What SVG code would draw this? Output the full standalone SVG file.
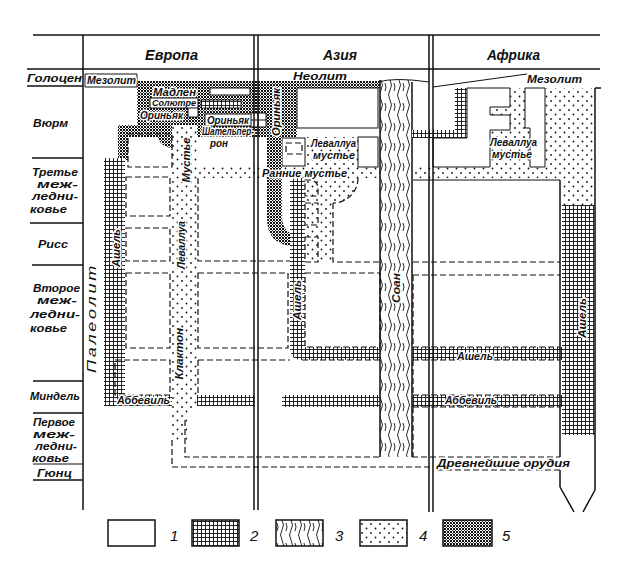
<svg xmlns="http://www.w3.org/2000/svg" width="630" height="586" viewBox="0 0 630 586">
<defs>
<pattern id="p2" width="4" height="4" patternUnits="userSpaceOnUse"><rect width="4" height="4" fill="#fff"/><path d="M0,1.5H4M1.5,0V4" stroke="#111" stroke-width="0.9"/></pattern>
<pattern id="p3" width="9" height="20" patternUnits="userSpaceOnUse"><rect width="9" height="20" fill="#fff"/><path d="M3,0q3,5 0,10q-3,5 0,10M7,3q2,4 0,8" fill="none" stroke="#111" stroke-width="0.9"/></pattern>
<pattern id="p4" width="9" height="9" patternUnits="userSpaceOnUse"><rect width="9" height="9" fill="#fff"/><circle cx="2" cy="2" r="0.9" fill="#111"/><circle cx="6.5" cy="6.5" r="0.9" fill="#111"/></pattern>
<pattern id="p5" width="3" height="3" patternUnits="userSpaceOnUse"><rect width="3" height="3" fill="#fff"/><rect width="2" height="2" fill="#111"/><rect x="2" y="2" width="1" height="1" fill="#222"/></pattern>
</defs>
<style>
.ln{stroke:#111;stroke-width:1.5;fill:none}
.thin{stroke:#111;stroke-width:1;fill:none}
.cell{stroke:#111;stroke-width:1.2;fill:none;stroke-dasharray:6 3}
.w{fill:#fff;stroke:#111;stroke-width:1}
.t{font-family:"Liberation Sans",Arial,sans-serif;font-style:italic;font-weight:bold;font-size:11px;fill:#111}
.h{paint-order:stroke;stroke:#fff;stroke-width:3px;stroke-linejoin:round}
.big{font-size:14px}
.sm{font-size:9px}
.s10{font-size:10px}
.num{font-size:15px;font-weight:normal}
.pal{font-size:13px;font-weight:normal;letter-spacing:2px}
</style>
<rect width="630" height="586" fill="#fff"/>

<g id="patterns">
<rect x="137" y="81" width="243" height="7" fill="url(#p5)"/>
<path d="M137,87 H297 V137 H118 V125 H137 Z" fill="url(#p5)"/>
<rect x="118" y="125" width="10" height="35" fill="url(#p5)"/>
<path d="M172,133 H157 A15,15 0 0 0 172,148 Z" fill="url(#p5)"/>
<rect x="210" y="88" width="40" height="7" class="w"/>
<rect x="201" y="100" width="40" height="8" fill="url(#p2)" stroke="#111" stroke-width="0.8"/>
<rect x="188" y="107" width="10" height="10" class="w"/>
<rect x="205" y="114" width="47" height="12" class="w"/>
<path d="M251,113 H266 V127 H251 Z M251,120 H266 M258,113 V127" class="w"/>
<rect x="104" y="158" width="21" height="248" fill="url(#p2)"/>
<rect x="104" y="395" width="68" height="11" fill="url(#p2)"/>
<path d="M172,125 H197 V405 L187,420 V440 H172 Z" fill="url(#p4)"/>
<rect x="197" y="167" width="183" height="11" fill="url(#p4)"/>
<rect x="297" y="88" width="81" height="40" class="w"/>
<rect x="305" y="137" width="53" height="30" fill="url(#p4)"/>
<rect x="358" y="137" width="20" height="30" class="w"/>
<rect x="282" y="138" width="23" height="28" class="w"/>
<rect x="286" y="143" width="16" height="11" class="cell" stroke-dasharray="3 2"/>
<path d="M267,137 H282 V215 Q282,230 292,234 V246 Q267,244 267,218 Z" fill="url(#p5)"/>
<path d="M290,178 H305 V347 H380 V360 H302 Q290,360 290,348 Z" fill="url(#p2)"/>
<rect x="305" y="178" width="28" height="84" fill="url(#p4)"/>
<path d="M333,178 H358 A25,25 0 0 1 333,203 Z" fill="url(#p4)"/>
<path d="M358,178 A25,25 0 0 1 333,203" class="cell"/>
<path d="M305,180 H310 A8,8 0 0 1 318,188 V196 H305 Z" fill="#fff" class="cell"/>
<rect x="305" y="203" width="13" height="22" fill="#fff" class="cell"/>
<rect x="305" y="237" width="13" height="25" fill="#fff" class="cell"/>
<rect x="197" y="395" width="58" height="11" fill="url(#p2)"/>
<rect x="282" y="395" width="98" height="12" fill="url(#p2)"/>
<rect x="412" y="395" width="150" height="12" fill="url(#p2)"/>
<rect x="412" y="347" width="150" height="13" fill="url(#p2)"/>
<rect x="380" y="80" width="32" height="377" fill="url(#p3)"/>
<path d="M380,80 V457 M412,82 V457" class="ln"/>
<path d="M378,82 Q395,77 429,82" class="thin"/>
<rect x="487" y="88" width="108" height="90" fill="url(#p4)"/>
<rect x="413" y="167" width="182" height="11" fill="url(#p4)"/>
<rect x="562" y="178" width="33" height="30" fill="url(#p4)"/>
<path d="M412,130 H455 V88 H467 V138 H412 Z" fill="url(#p2)"/>
<path d="M467,88 H510 V107 H490 V115 H510 V130 H490 V167 H433 V138 H467 Z" class="w"/>
<path d="M525,88 H545 V167 H530 V128 H525 Z" class="w"/>
<rect x="562" y="205" width="33" height="230" fill="url(#p2)"/>
</g>

<g id="cells">
<rect x="128" y="134" width="44" height="33" class="cell"/>
<rect x="126" y="177" width="44" height="39" class="cell"/>
<rect x="126" y="228" width="44" height="33" class="cell"/>
<rect x="126" y="273" width="44" height="75" class="cell"/>
<rect x="115" y="360" width="55" height="35" class="cell"/>
<path d="M198,178 V261 H290" class="cell"/>
<rect x="198" y="273" width="90" height="75" class="cell"/>
<path d="M198,360 V395 M198,360 H290" class="cell"/>
<rect x="305" y="273" width="75" height="74" class="cell"/>
<path d="M302,360 H380" class="cell"/>
<path d="M333,203 V262 H380" class="cell"/>
<path d="M185,420 V457 H380 M412,457 H560" class="cell"/>
<path d="M172,440 V467 H430" class="cell"/>
<path d="M437,470 H560" class="cell"/>
<path d="M413,262 H560 M413,275 H560 M413,347 H560 M413,360 H560 M413,395 H560 M413,407 H560" class="cell"/>
<path d="M413,180 H560" class="thin"/>
<path d="M413,275 V347 M413,360 V395 M413,407 V457" class="cell"/>
</g>

<g id="frame">
<path d="M33,35 H600 M27,69 H600 M27,86 H83 M32,158 H83 M30,223 H83 M32,265 H83 M33,381 H83 M33,413 H83 M33,480 H83" class="ln"/>
<path d="M33,464 H83" class="thin"/>
<path d="M83,35 V510 M254,35 V510 M258,35 V510 M429,35 V512 M433,35 V512" class="ln"/>
<path d="M595,88 V490 M595,88 H601 M560,180 V457 M560,470 V487 M560,487 L574,512 M595,490 L583,512" class="ln"/>
<path d="M433,87 L527,74" class="thin"/>
<path d="M85,74 H137 V87 H85 Z" class="thin"/>
</g>

<g id="labels">
<text class="t big" x="145" y="60" textLength="53" lengthAdjust="spacingAndGlyphs">Европа</text>
<text class="t big" x="323" y="60" textLength="34" lengthAdjust="spacingAndGlyphs">Азия</text>
<text class="t big" x="487" y="60" textLength="53" lengthAdjust="spacingAndGlyphs">Африка</text>

<text class="t" x="27" y="82" textLength="55" lengthAdjust="spacingAndGlyphs">Голоцен</text>
<text class="t" x="33" y="127" textLength="35" lengthAdjust="spacingAndGlyphs">Вюрм</text>
<text class="t" x="32" y="176" textLength="46" lengthAdjust="spacingAndGlyphs">Третье</text>
<text class="t" x="37" y="188" textLength="41" lengthAdjust="spacingAndGlyphs">меж-</text>
<text class="t" x="32" y="200" textLength="46" lengthAdjust="spacingAndGlyphs">ледни-</text>
<text class="t" x="30" y="213" textLength="37" lengthAdjust="spacingAndGlyphs">ковье</text>
<text class="t" x="38" y="248" textLength="30" lengthAdjust="spacingAndGlyphs">Рисс</text>
<text class="t" x="33" y="292" textLength="47" lengthAdjust="spacingAndGlyphs">Второе</text>
<text class="t" x="37" y="304" textLength="40" lengthAdjust="spacingAndGlyphs">меж-</text>
<text class="t" x="30" y="318" textLength="50" lengthAdjust="spacingAndGlyphs">ледни-</text>
<text class="t" x="30" y="332" textLength="37" lengthAdjust="spacingAndGlyphs">ковье</text>
<text class="t" x="30" y="400" textLength="50" lengthAdjust="spacingAndGlyphs">Миндель</text>
<text class="t s10" x="33" y="426" textLength="42" lengthAdjust="spacingAndGlyphs">Первое</text>
<text class="t s10" x="33" y="438" textLength="42" lengthAdjust="spacingAndGlyphs">меж-</text>
<text class="t s10" x="35" y="450" textLength="42" lengthAdjust="spacingAndGlyphs">ледни-</text>
<text class="t s10" x="32" y="462" textLength="37" lengthAdjust="spacingAndGlyphs">ковье</text>
<text class="t" x="37" y="477" textLength="35" lengthAdjust="spacingAndGlyphs">Гюнц</text>

<text class="t h" x="87" y="84" textLength="49" lengthAdjust="spacingAndGlyphs">Мезолит</text>
<text class="t" x="293" y="80" textLength="54" lengthAdjust="spacingAndGlyphs">Неолит</text>
<text class="t" x="527" y="83" textLength="55" lengthAdjust="spacingAndGlyphs">Мезолит</text>
<text class="t h" x="153" y="96" textLength="43" lengthAdjust="spacingAndGlyphs">Мадлен</text>
<rect x="150" y="98" width="48" height="10" class="w"/>
<text class="t sm" x="152" y="106" textLength="44" lengthAdjust="spacingAndGlyphs">Солютре</text>
<text class="t h" x="140" y="119" textLength="43" lengthAdjust="spacingAndGlyphs">Ориньяк</text>
<text class="t" x="207" y="124" textLength="42" lengthAdjust="spacingAndGlyphs">Ориньяк</text>
<text class="t h s10" x="202" y="135" textLength="52" lengthAdjust="spacingAndGlyphs">Шательпер-</text>
<text class="t s10" x="210" y="147" textLength="18" lengthAdjust="spacingAndGlyphs">рон</text>
<text class="t h s10" x="311" y="147" textLength="45" lengthAdjust="spacingAndGlyphs">Леваллуа</text>
<text class="t h s10" x="313" y="159" textLength="42" lengthAdjust="spacingAndGlyphs">мустье</text>
<text class="t h" x="262" y="177" textLength="85" lengthAdjust="spacingAndGlyphs">Ранние мустье</text>
<text class="t h s10" x="490" y="146" textLength="47" lengthAdjust="spacingAndGlyphs">Леваллуа</text>
<text class="t h s10" x="492" y="158" textLength="40" lengthAdjust="spacingAndGlyphs">мустье</text>
<text class="t h" x="457" y="360" textLength="36" lengthAdjust="spacingAndGlyphs">Ашель</text>
<text class="t h" x="117" y="404" textLength="53" lengthAdjust="spacingAndGlyphs">Аббевиль</text>
<text class="t h" x="445" y="404" textLength="52" lengthAdjust="spacingAndGlyphs">Аббевиль</text>
<text class="t h" x="437" y="467" textLength="133" lengthAdjust="spacingAndGlyphs">Древнейшие орудия</text>

<text class="t pal" transform="translate(96,318) rotate(-90)" text-anchor="middle" textLength="110" lengthAdjust="spacingAndGlyphs">Палеолит</text>
<text class="t h" transform="translate(120,248) rotate(-90)" text-anchor="middle" textLength="38" lengthAdjust="spacingAndGlyphs">Ашель</text>
<text class="t h" transform="translate(190,160) rotate(-90)" text-anchor="middle" textLength="45" lengthAdjust="spacingAndGlyphs">Мустье</text>
<text class="t h" transform="translate(185,245) rotate(-90)" text-anchor="middle" textLength="48" lengthAdjust="spacingAndGlyphs">Леваллуа</text>
<text class="t h" transform="translate(183,352) rotate(-90)" text-anchor="middle" textLength="55" lengthAdjust="spacingAndGlyphs">Клактон.</text>
<text class="t h" transform="translate(280,112) rotate(-90)" text-anchor="middle" textLength="48" lengthAdjust="spacingAndGlyphs">Ориньяк</text>
<text class="t h" transform="translate(301,300) rotate(-90)" text-anchor="middle" textLength="40" lengthAdjust="spacingAndGlyphs">Ашель</text>
<text class="t h" transform="translate(400,288) rotate(-90)" text-anchor="middle" textLength="30" lengthAdjust="spacingAndGlyphs">Соан</text>
<text class="t h" transform="translate(586,318) rotate(-90)" text-anchor="middle" textLength="40" lengthAdjust="spacingAndGlyphs">Ашель</text>
</g>

<g id="legend">
<rect x="108" y="520" width="47" height="26" fill="#fff" class="ln"/>
<rect x="192" y="520" width="47" height="26" class="ln" style="fill:url(#p2)"/>
<rect x="276" y="520" width="47" height="26" class="ln" style="fill:url(#p3)"/>
<rect x="360" y="520" width="47" height="26" class="ln" style="fill:url(#p4)"/>
<rect x="443" y="520" width="49" height="26" class="ln" style="fill:url(#p5)"/>
<text class="t num" x="170" y="541">1</text>
<text class="t num" x="250" y="541">2</text>
<text class="t num" x="335" y="541">3</text>
<text class="t num" x="419" y="541">4</text>
<text class="t num" x="502" y="541">5</text>
</g>
</svg>
